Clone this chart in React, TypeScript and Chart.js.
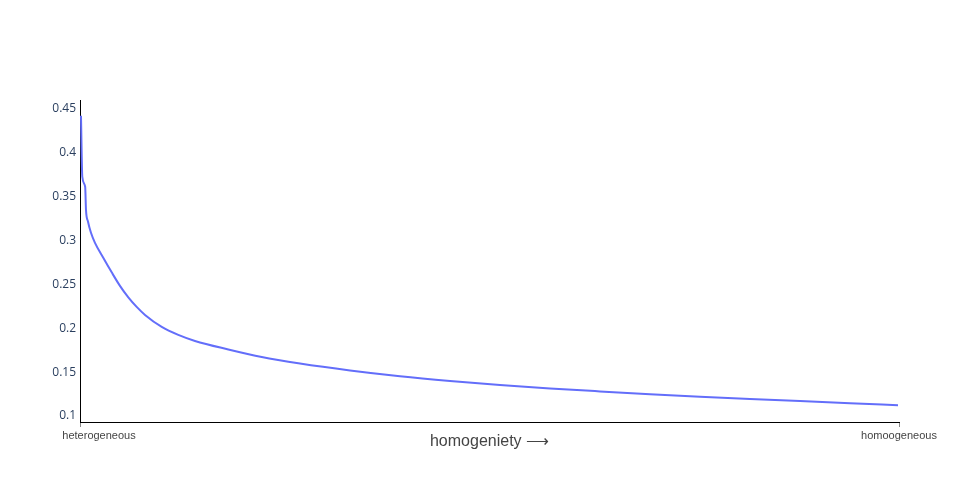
import React, { useEffect, useRef } from "react";
import { Chart, registerables } from "chart.js";

Chart.register(...registerables);

// homogeneity position (0 = heterogeneous, 1 = homoogeneous)
const xValues = [
  0.0012, 0.0028, 0.0063, 0.0073, 0.0098, 0.0134, 0.0183, 0.0284, 0.0387,
  0.0488, 0.059, 0.0692, 0.0794, 0.0998, 0.12, 0.1404, 0.1811, 0.2219,
  0.2686, 0.3297, 0.3907, 0.4518, 0.5128, 0.5739, 0.6349, 0.696, 0.757,
  0.8181, 0.8791, 0.9402, 0.9988,
];
const yValues = [
  0.44, 0.3705, 0.3591, 0.3329, 0.3192, 0.3066, 0.2952, 0.2781, 0.2615,
  0.2461, 0.233, 0.2221, 0.213, 0.1993, 0.1902, 0.1833, 0.1736, 0.165,
  0.1576, 0.1497, 0.1431, 0.1377, 0.1331, 0.1292, 0.1258, 0.1226, 0.1197,
  0.1171, 0.1147, 0.1124, 0.11,
];

const yTicks = [0.1, 0.15, 0.2, 0.25, 0.3, 0.35, 0.4, 0.45];
const yTickLabels = ["0.1", "0.15", "0.2", "0.25", "0.3", "0.35", "0.4", "0.45"];
const xTickValues = [0, 0.0232, 1];
const xTickLabels = ["", "heterogeneous", "homoogeneous"];
const xTitle = "homogeniety ⟶";

export default function App() {
  const ref = useRef<HTMLCanvasElement | null>(null);

  useEffect(() => {
    if (!ref.current) return;
    const chart = new Chart(ref.current, {
      type: "line",
      data: {
        datasets: [
          {
            data: xValues.map((x, i) => ({ x, y: yValues[i] })),
            borderColor: "#636efa",
            borderWidth: 2,
            pointRadius: 0,
            fill: false,
            cubicInterpolationMode: "monotone",
          },
        ],
      },
      options: {
        animation: false,
        responsive: false,
        devicePixelRatio: 1,
        layout: { padding: { left: 0, right: 80, top: 100, bottom: 50 } },
        plugins: { legend: { display: false }, tooltip: { enabled: false } },
        scales: {
          x: {
            type: "linear",
            min: 0,
            max: 1,
            afterFit: (s: any) => {
              s.height = 30;
            },
            afterBuildTicks: (s: any) => {
              s.ticks = xTickValues.map((v) => ({ value: v }));
            },
            border: { display: true, color: "#000", width: 1 },
            grid: {
              drawOnChartArea: false,
              drawTicks: true,
              tickLength: 5,
              color: (ctx: any) => (ctx.index === 1 ? "rgba(0,0,0,0)" : "#888"),
            },
            ticks: {
              autoSkip: false,
              maxRotation: 0,
              padding: 2,
              color: "#444",
              font: { family: "'Liberation Sans', Arial, sans-serif", size: 11 },
              callback: (_v: any, i: number) => xTickLabels[i],
            },
            title: {
              display: true,
              text: xTitle,
              color: "#444",
              font: { family: "'Liberation Sans', Arial, sans-serif", size: 16 },
              padding: { top: 0, bottom: 1 },
            },
          },
          y: {
            type: "linear",
            min: 0.0909,
            max: 0.458,
            afterFit: (s: any) => {
              s.width = 80;
            },
            afterBuildTicks: (s: any) => {
              s.ticks = yTicks.map((v) => ({ value: v }));
            },
            border: { display: true, color: "#000", width: 1 },
            grid: { display: false, drawTicks: false },
            ticks: {
              padding: 4,
              labelOffset: 2,
              color: "#2a3f5f",
              font: { family: "'Open Sans', sans-serif", size: 12 },
              callback: (_v: any, i: number) => yTickLabels[i],
            },
          },
        },
      },
    });
    return () => chart.destroy();
  }, []);

  return (
    <div style={{ position: "absolute", left: 0, top: 0, width: 979, height: 502, background: "#fff" }}>
      <canvas ref={ref} width={979} height={502} />
    </div>
  );
}
